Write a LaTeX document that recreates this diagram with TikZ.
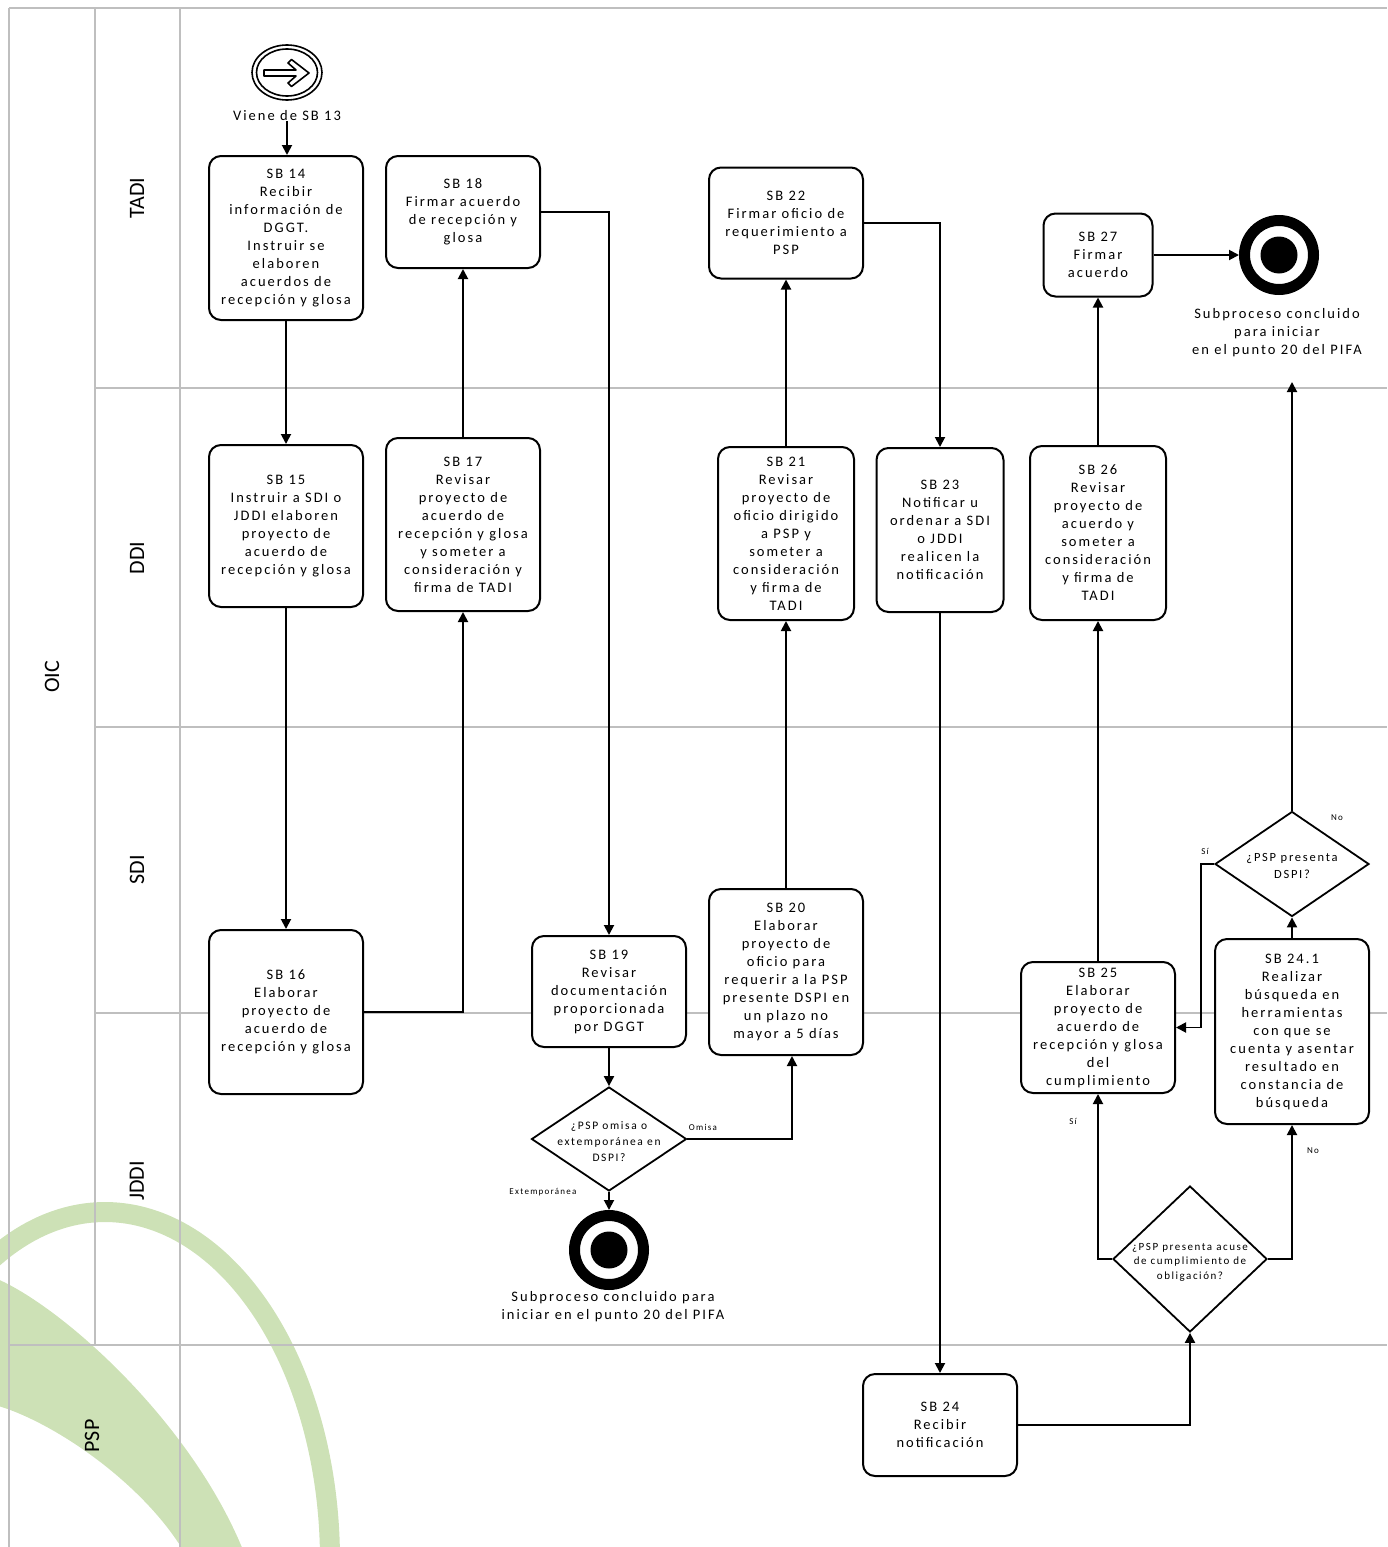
\documentclass[tikz,border=0pt]{standalone}
\usepackage{fontspec}
\setmainfont{Carlito}[LetterSpace=14]
\newfontfamily\lanefont{Carlito}
\usetikzlibrary{arrows.meta,shapes.geometric,calc}
\definecolor{laneg}{RGB}{191,191,191}
\definecolor{wmgreen}{RGB}{205,225,182}
\begin{document}
\begin{tikzpicture}[x=1pt,y=-1pt,
  box/.style={draw=black,line width=2pt,rounded corners=12pt,fill=white,align=center,inner sep=0pt,font=\fontsize{14.5}{18}\selectfont},
  conn/.style={line width=1.9pt,-{Triangle[length=10pt,width=10pt]}},
  lane/.style={draw=laneg,line width=2.5pt},
  lanelabel/.style={font=\lanefont\fontsize{22}{26}\selectfont,rotate=90,inner sep=0pt},
  dia/.style={draw=black,line width=1.8pt,diamond,fill=white,inner sep=0pt},
  smalllab/.style={font=\fontsize{9}{11}\selectfont,inner sep=0pt},
  txt/.style={align=center,inner sep=0pt,font=\fontsize{14.5}{18}\selectfont}
]
\useasboundingbox (0,0) rectangle (1387,1547);
% watermark
\begin{scope}
\clip (0,0) rectangle (1387,1547);
\fill[wmgreen] (-5,1278) .. controls (60,1305) and (190,1420) .. (243,1550) -- (183,1550) .. controls (140,1480) and (50,1420) .. (-5,1405) -- cycle;
\draw[wmgreen,line width=20pt] plot[domain=-128:6,samples=80,smooth] ({105+225*cos(\x)},{1560+348*sin(\x)});
\end{scope}
% lanes
\draw[lane] (9,8) -- (1387,8);
\draw[lane] (9,8) -- (9,1547);
\draw[lane] (95,8) -- (95,1345);
\draw[lane] (180,8) -- (180,1547);
\draw[lane] (95,388) -- (1387,388);
\draw[lane] (95,727) -- (1387,727);
\draw[lane] (95,1013) -- (1387,1013);
\draw[lane] (9,1345) -- (1387,1345);
\node[lanelabel] (lOIC) at (52,677) {OIC};
\node[lanelabel] (lTADI) at (137,198) {TADI};
\node[lanelabel] (lDDI) at (137,558) {DDI};
\node[lanelabel] (lSDI) at (137,870) {SDI};
\node[lanelabel] (lJDDI) at (137,1181) {JDDI};
\node[lanelabel] (lPSP) at (92,1436) {PSP};
% start event
\node[ellipse,draw=black,line width=1.6pt,minimum width=70,minimum height=55,inner sep=0pt] (start) at (287,72.5) {};
\node[ellipse,draw=black,line width=1.6pt,minimum width=61,minimum height=47,inner sep=0pt] (starti) at (287,72.5) {};
\draw[line width=1.6pt,line join=round] (264,70) -- (296,70) -- (288,63) -- (291.5,59.5) -- (309,73) -- (291.5,86.5) -- (288,83) -- (296,76) -- (264,76) -- cycle;
\node[txt] (viene) at (287,116) {Viene de SB 13};
% boxes
\node[box,minimum width=154,minimum height=164] (sb14) at (286,238) {SB 14\\Recibir\\información de\\DGGT.\\Instruir se\\elaboren\\acuerdos de\\recepción y glosa};
\node[box,minimum width=154,minimum height=112] (sb18) at (463,212) {SB 18\\Firmar acuerdo\\de recepción y\\glosa};
\node[box,minimum width=154,minimum height=111] (sb22) at (786,223) {SB 22\\Firmar oficio de\\requerimiento a\\PSP};
\node[box,minimum width=109,minimum height=83] (sb27) at (1098,255) {SB 27\\Firmar\\acuerdo};
\node[box,minimum width=154,minimum height=162] (sb15) at (286,526) {SB 15\\Instruir a SDI o\\JDDI elaboren\\proyecto de\\acuerdo de\\recepción y glosa};
\node[box,minimum width=154,minimum height=173] (sb17) at (463,524.5) {SB 17\\Revisar\\proyecto de\\acuerdo de\\recepción y glosa\\y someter a\\consideración y\\firma de TADI};
\node[box,minimum width=136,minimum height=173] (sb21) at (786,533.5) {SB 21\\Revisar\\proyecto de\\oficio dirigido\\a PSP y\\someter a\\consideración\\y firma de\\TADI};
\node[box,minimum width=127,minimum height=164] (sb23) at (940,530) {SB 23\\Notificar u\\ordenar a SDI\\o JDDI\\realicen la\\notificación};
\node[box,minimum width=136,minimum height=174] (sb26) at (1098,533) {SB 26\\Revisar\\proyecto de\\acuerdo y\\someter a\\consideración\\y firma de\\TADI};
\node[box,minimum width=154,minimum height=164] (sb16) at (286,1012) {SB 16\\Elaborar\\proyecto de\\acuerdo de\\recepción y glosa};
\node[box,minimum width=154,minimum height=111] (sb19) at (609,991.5) {SB 19\\Revisar\\documentación\\proporcionada\\por DGGT};
\node[box,minimum width=154,minimum height=166] (sb20) at (786,972) {SB 20\\Elaborar\\proyecto de\\oficio para\\requerir a la PSP\\presente DSPI en\\un plazo no\\mayor a 5 días};
\node[box,minimum width=154,minimum height=131] (sb25) at (1098,1027.5) {SB 25\\Elaborar\\proyecto de\\acuerdo de\\recepción y glosa\\del\\cumplimiento};
\node[box,minimum width=154,minimum height=185] (sb241) at (1292,1031.5) {SB 24.1\\Realizar\\búsqueda en\\herramientas\\con que se\\cuenta y asentar\\resultado en\\constancia de\\búsqueda};
\node[box,minimum width=154,minimum height=102] (sb24) at (940,1425) {SB 24\\Recibir\\notificación};
% diamonds
\node[dia,minimum width=155,minimum height=104] (d1) at (609,1139) {};
\node[align=center,inner sep=0pt,font=\fontsize{11.5}{16}\selectfont] (d1t) at (609,1142) {¿PSP omisa o\\extemporánea en\\DSPI?};
\node[dia,minimum width=154,minimum height=105] (d2) at (1292,864) {};
\node[align=center,inner sep=0pt,font=\fontsize{12.5}{17}\selectfont] (d2t) at (1292,866) {¿PSP presenta\\DSPI?};
\node[dia,minimum width=154,minimum height=146] (d3) at (1190,1259) {};
\node[align=center,inner sep=0pt,font=\fontsize{11}{14.5}\selectfont] (d3t) at (1190,1262) {¿PSP presenta acuse\\de cumplimiento de\\obligación?};
% end events
\node[circle,draw=black,line width=11pt,minimum size=69,inner sep=0pt] (end1) at (609,1250) {};
\fill (end1.center) circle[radius=18.5pt];
\node[circle,draw=black,line width=11pt,minimum size=69,inner sep=0pt] (end2) at (1279,255) {};
\fill (end2.center) circle[radius=18.5pt];
\node[txt] (end1t) at (613,1306.5) {Subproceso concluido para\\iniciar en el punto 20 del PIFA};
\node[txt] (end2t) at (1277,333) {Subproceso concluido\\para iniciar\\en el punto 20 del PIFA};
% connectors
\draw[conn] (viene.south) -- (sb14.north -| viene.south);
\draw[conn] (sb14) -- (sb15);
\draw[conn] (sb15) -- (sb16);
\draw[conn] (sb16.east) -| (sb17.south);
\draw[conn] (sb17) -- (sb18);
\draw[conn] (sb18.east) -| (sb19.north);
\draw[conn] (sb19) -- (d1);
\draw[conn] (d1.east) -| ([xshift=6pt]sb20.south);
\draw[conn] (d1) -- (end1);
\draw[conn] (sb20) -- (sb21);
\draw[conn] (sb21) -- (sb22);
\draw[conn] (sb22.east) -| (sb23.north);
\draw[conn] (sb23) -- (sb24);
\draw[conn] (sb24.east) -| (d3.south);
\draw[conn] (d3.west) -| (sb25.south);
\draw[conn] (d3.east) -| (sb241.south);
\draw[conn] (sb241) -- (d2);
\draw[conn] (d2.west) -- ++(-13,0) |- (sb25.east);
\coordinate (d2up) at (1292,382);
\draw[conn] (d2.north) -- (d2up);
\draw[conn] (sb25) -- (sb26);
\draw[conn] (sb26) -- (sb27);
\draw[conn] (sb27) -- (end2);
% labels
\node[smalllab] (lomisa) at (703,1127) {Omisa};
\node[smalllab] (lext) at (543,1192) {Extemporánea};
\node[smalllab] (lsi1) at (1073,1121) {Sí};
\node[smalllab] (lno1) at (1313,1151) {No};
\node[smalllab] (lsi2) at (1205,851) {Sí};
\node[smalllab] (lno2) at (1337,818) {No};
\end{tikzpicture}
\end{document}
